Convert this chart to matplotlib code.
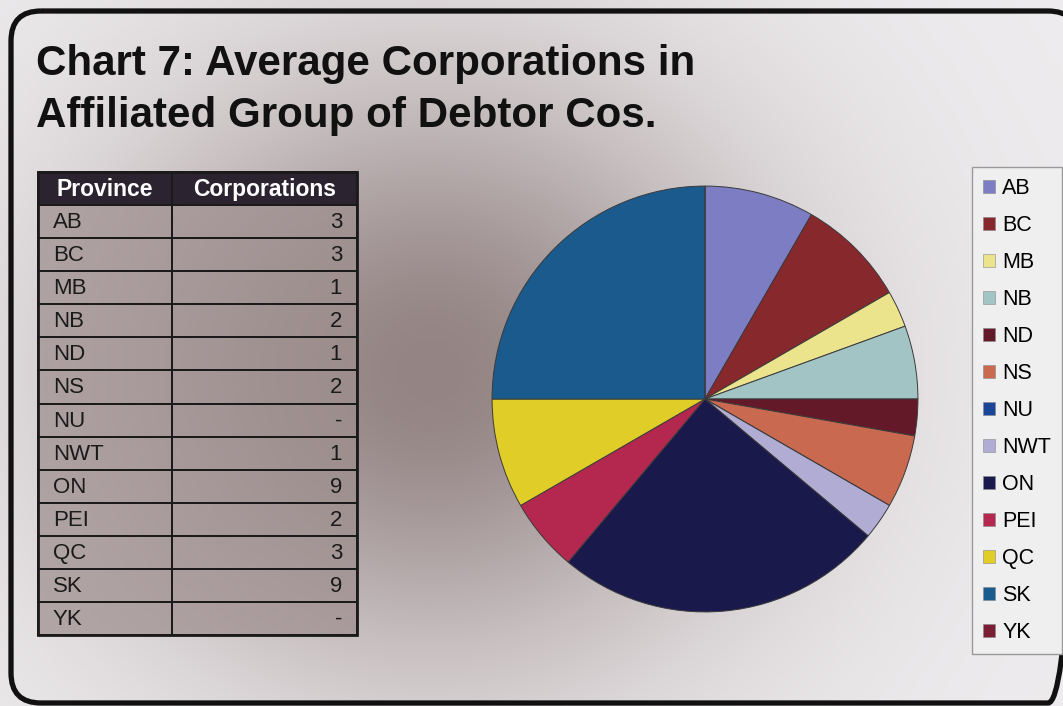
import numpy as np
import matplotlib
matplotlib.use("Agg")
import matplotlib.pyplot as plt
from matplotlib.patches import Rectangle, FancyBboxPatch, Patch

plt.rcParams['font.family'] = ['Liberation Sans', 'DejaVu Sans']

# ---- data -------------------------------------------------------------
provinces = ["AB", "BC", "MB", "NB", "ND", "NS", "NU", "NWT", "ON", "PEI", "QC", "SK", "YK"]
corporations = [3, 3, 1, 2, 1, 2, 0, 1, 9, 2, 3, 9, 0]
slice_colors = ["#7d7dc3", "#87282d", "#ebe48c", "#a3c4c4", "#641928", "#c86950",
                "#1b4596", "#b0acd4", "#19194b", "#b42850", "#e1cd28", "#1a5a8c",
                "#7a1e34"]
title_lines = ["Chart 7: Average Corporations in", "Affiliated Group of Debtor Cos."]
header = ["Province", "Corporations"]

W, H = 1063, 706
fig = plt.figure(figsize=(W / 100, H / 100), dpi=100)

# ---- background: light sheet with a soft dark shadow --------------------
bg = fig.add_axes([0, 0, 1, 1])
bg.set_xlim(0, W)
bg.set_ylim(H, 0)
bg.axis("off")
yy, xx = np.mgrid[0:H, 0:W]
wgt = np.exp(-((xx - 430) / 330.0) ** 2 - ((yy - 370) / 300.0) ** 2)
light = np.array([238, 236, 238]) / 255.0
dark = np.array([148, 132, 132]) / 255.0
img = light[None, None, :] * (1 - wgt[..., None]) + dark[None, None, :] * wgt[..., None]
bg.imshow(img, extent=(0, W, H, 0), aspect="auto", zorder=0)

# frame with rounded corners (right edge runs just past the sheet)
frame = FancyBboxPatch((11, 11), W + 15 - 11, 703 - 11,
                       boxstyle="round,pad=0,rounding_size=30",
                       fill=False, edgecolor="#111111", linewidth=3.8, zorder=2)
bg.add_patch(frame)

# title
for i, line in enumerate(title_lines):
    bg.text(36, 75 + i * 52, line, fontsize=30.3, fontweight="bold",
            color="#111111", ha="left", va="baseline", zorder=3)

# ---- table ------------------------------------------------------------
tx0, tx1, tsplit = 38, 357, 172
ty0, ty1 = 172, 635
nrows = len(provinces) + 1
rh = (ty1 - ty0) / nrows
for r in range(nrows):
    y = ty0 + r * rh
    if r == 0:
        face, alpha = "#2b2330", 1.0
    else:
        face, alpha = "#9e8e8e", 0.72
    for (xa, xb) in ((tx0, tsplit), (tsplit, tx1)):
        bg.add_patch(Rectangle((xa, y), xb - xa, rh, facecolor=face, alpha=alpha,
                               edgecolor="none", zorder=3))
        bg.add_patch(Rectangle((xa, y), xb - xa, rh, fill=False,
                               edgecolor="#1a1a1a", linewidth=1.3, zorder=4))
    yc = y + rh / 2 + 1
    if r == 0:
        bg.text((tx0 + tsplit) / 2, yc, header[0], color="white", fontweight="bold",
                fontsize=16.5, ha="center", va="center", zorder=5)
        bg.text((tsplit + tx1) / 2, yc, header[1], color="white", fontweight="bold",
                fontsize=16.5, ha="center", va="center", zorder=5)
    else:
        prov = provinces[r - 1]
        val = corporations[r - 1]
        bg.text(tx0 + 15, yc, prov, color="#1a1a1a", fontsize=16,
                ha="left", va="center", zorder=5)
        bg.text(tx1 - 15, yc, str(val) if val else "-", color="#1a1a1a", fontsize=16,
                ha="right", va="center", zorder=5)
bg.add_patch(Rectangle((tx0, ty0), tx1 - tx0, ty1 - ty0, fill=False,
                       edgecolor="#1a1a1a", linewidth=2.0, zorder=4))

# ---- pie --------------------------------------------------------------
cx, cy, rad = 705, 399, 214
pax = fig.add_axes([(cx - rad) / W, (H - cy - rad) / H, 2 * rad / W, 2 * rad / H])
wedges, _ = pax.pie(corporations, colors=slice_colors, startangle=90,
                    counterclock=False, radius=1.0,
                    wedgeprops=dict(edgecolor="#3a3a3a", linewidth=0.7))
pax.set_xlim(-1.005, 1.005)
pax.set_ylim(-1.005, 1.005)
pax.set_aspect("equal")
pax.axis("off")

# ---- legend -----------------------------------------------------------
handles = [Patch(facecolor=c, edgecolor="#888888", linewidth=0.4) for c in slice_colors]
leg = bg.legend(handles, provinces, loc="upper left",
                bbox_to_anchor=(972 / W, 1 - 167 / H), bbox_transform=fig.transFigure,
                fontsize=15.5, frameon=True, fancybox=False, framealpha=1,
                facecolor="#f0eff0", edgecolor="#9a9a9a",
                handlelength=0.55, handleheight=0.55, handletextpad=0.35,
                labelspacing=0.745, borderpad=0.5, borderaxespad=0)
leg.get_frame().set_linewidth(1.0)
leg.set_zorder(6)

fig.savefig("out.png", dpi=100)
